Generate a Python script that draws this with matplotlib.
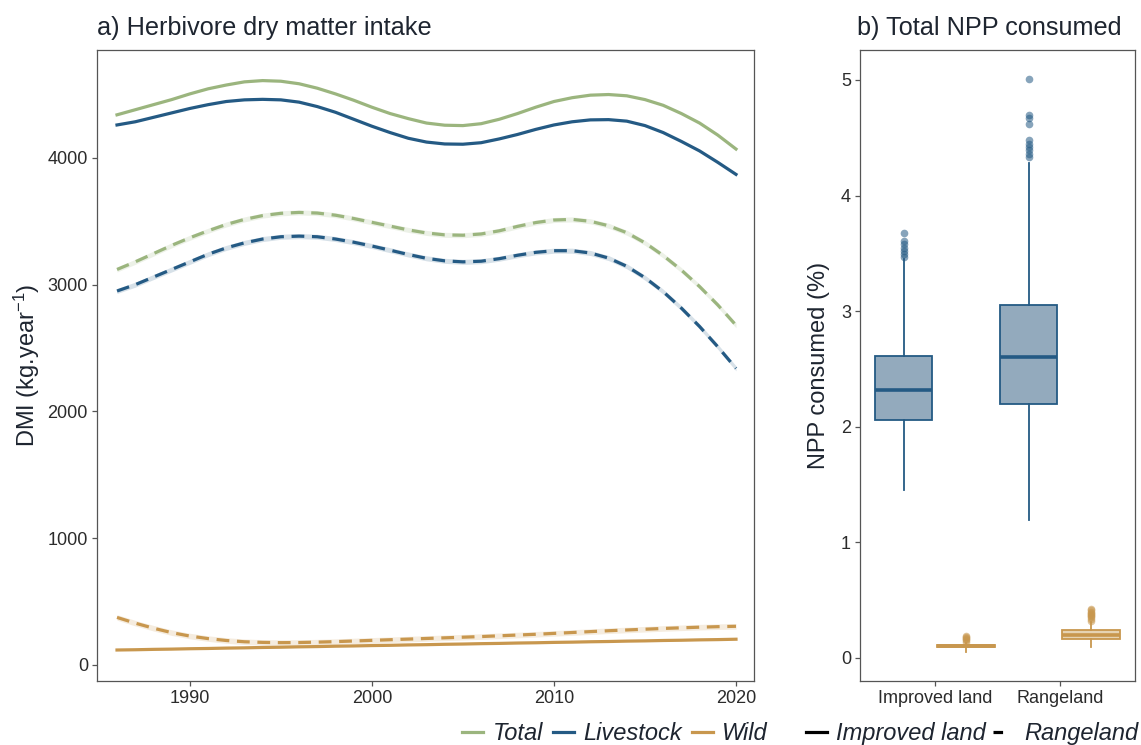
import numpy as np
import matplotlib
matplotlib.use("Agg")
import matplotlib.pyplot as plt
from matplotlib.lines import Line2D

plt.rcParams['font.family'] = ['Liberation Sans', 'DejaVu Sans']
plt.rcParams['mathtext.fontset'] = 'custom'
plt.rcParams['mathtext.rm'] = 'Liberation Sans'
plt.rcParams['mathtext.it'] = 'Liberation Sans:italic'

# ---- data -------------------------------------------------------------
years = np.arange(1986, 2021)

# Improved land (solid)
total_improved = [4340, 4380, 4420, 4460, 4505, 4545, 4575, 4600, 4610, 4605,
                  4585, 4550, 4505, 4455, 4400, 4350, 4310, 4275, 4258, 4255,
                  4270, 4305, 4350, 4400, 4445, 4475, 4495, 4500, 4490, 4460,
                  4415, 4350, 4275, 4180, 4070]
livestock_improved = [4260, 4285, 4320, 4355, 4390, 4420, 4445, 4458, 4462, 4458,
                      4440, 4405, 4360, 4305, 4250, 4200, 4155, 4125, 4110, 4108,
                      4120, 4150, 4185, 4225, 4260, 4285, 4300, 4302, 4290, 4255,
                      4200, 4130, 4055, 3965, 3870]
wild_improved = [118, 120, 123, 125, 128, 130, 133, 135, 138, 140,
                 143, 145, 148, 150, 153, 155, 158, 160, 163, 165,
                 168, 170, 173, 175, 178, 180, 183, 185, 188, 190,
                 193, 195, 198, 200, 203]

# Rangeland (dashed)
total_range = [3120, 3180, 3245, 3310, 3370, 3425, 3475, 3515, 3545, 3563,
               3570, 3565, 3548, 3522, 3492, 3462, 3432, 3408, 3393, 3390,
               3400, 3425, 3460, 3490, 3510, 3515, 3500, 3465, 3410, 3330,
               3230, 3115, 2985, 2840, 2680]
livestock_range = [2950, 3000, 3060, 3120, 3180, 3240, 3290, 3330, 3360, 3378,
                   3383, 3378, 3360, 3335, 3305, 3272, 3238, 3208, 3188, 3180,
                   3185, 3205, 3232, 3255, 3268, 3268, 3250, 3210, 3145, 3055,
                   2945, 2815, 2670, 2510, 2340]
wild_range = [375, 330, 290, 255, 228, 208, 193, 183, 178, 176,
              177, 180, 184, 189, 194, 199, 204, 209, 214, 219,
              224, 230, 236, 242, 249, 256, 263, 270, 276, 282,
              288, 293, 298, 302, 305]

# half-width of the confidence band around the rangeland smooths
band_total, band_livestock, band_wild = 20, 20, 22

# NPP consumed (%) box statistics: whislo, q1, med, q3, whishi, fliers
land_types = ["Improved land", "Rangeland"]
livestock_stats = [
    (1.45, 2.06, 2.32, 2.61, 3.45, [3.47, 3.49, 3.52, 3.55, 3.58, 3.61, 3.68]),
    (1.19, 2.20, 2.60, 3.05, 4.28, [4.33, 4.36, 4.39, 4.42, 4.45, 4.48,
                                    4.62, 4.67, 4.70, 5.01]),
]
wild_stats = [
    (0.05, 0.09, 0.10, 0.115, 0.13, [0.14, 0.15, 0.16, 0.17, 0.18, 0.19]),
    (0.095, 0.16, 0.20, 0.24, 0.31, [0.32, 0.34, 0.35, 0.36, 0.37, 0.38,
                                     0.39, 0.40, 0.41, 0.42]),
]

# ---- style ------------------------------------------------------------
GREEN = "#9BB57E"
BLUE = "#245A84"
TAN = "#C8974E"
FRAME = "#555555"
TEXT = "#1E2530"

fig = plt.figure(figsize=(11.41, 7.45), dpi=100)
ax1 = fig.add_axes([0.085, 0.086, 0.576, 0.847])
ax2 = fig.add_axes([0.7537, 0.086, 0.241, 0.847])

for ax in (ax1, ax2):
    for s in ax.spines.values():
        s.set_color(FRAME)
        s.set_linewidth(0.9)
    ax.tick_params(colors=FRAME, labelcolor="#2b2b2b", labelsize=13,
                   length=3.5, width=0.9, pad=3)

# ---- panel a: DMI smooths --------------------------------------------
dash = (4, 2.4)
for vals, col, band in [(total_range, GREEN, band_total),
                        (livestock_range, BLUE, band_livestock),
                        (wild_range, TAN, band_wild)]:
    v = np.array(vals)
    ax1.fill_between(years, v - band, v + band, color=col, alpha=0.18, lw=0)
    ax1.plot(years, v, color=col, lw=2.3, dashes=dash)

for vals, col in [(total_improved, GREEN), (livestock_improved, BLUE),
                  (wild_improved, TAN)]:
    ax1.plot(years, vals, color=col, lw=2.3)

ax1.set_xlim(1984.9, 2021.0)
ax1.set_ylim(-126, 4852)
ax1.set_xticks([1990, 2000, 2010, 2020])
ax1.set_yticks([0, 1000, 2000, 3000, 4000])
ax1.set_ylabel(r"DMI (kg.year$^{-1}$)", fontsize=17, color=TEXT, labelpad=4)
ax1.set_title("a) Herbivore dry matter intake", loc="left", fontsize=18.2,
              color=TEXT, pad=11, x=0.0)

# ---- panel b: boxplots ----------------------------------------------
def to_bxp(stats):
    return [dict(whislo=s[0], q1=s[1], med=s[2], q3=s[3], whishi=s[4],
                 fliers=s[5]) for s in stats]

pos = np.arange(len(land_types))
offset, width = 0.25, 0.46
for stats, col, face, shift in [(livestock_stats, BLUE, "#93AABD", -offset),
                                (wild_stats, TAN, "#E6D3B2", offset)]:
    ax2.bxp(to_bxp(stats), positions=pos + shift, widths=width,
            patch_artist=True, showcaps=False,
            boxprops=dict(facecolor=face, edgecolor=col, lw=1.3),
            medianprops=dict(color=col, lw=2.6),
            whiskerprops=dict(color=col, lw=1.3),
            flierprops=dict(marker="o", markersize=5.5, markerfacecolor=col,
                            markeredgecolor="none", alpha=0.55))

ax2.set_xlim(-0.6, 1.6)
ax2.set_ylim(-0.2, 5.26)
ax2.set_xticks(pos)
ax2.set_xticklabels(land_types)
ax2.set_yticks([0, 1, 2, 3, 4, 5])
ax2.set_ylabel("NPP consumed (%)", fontsize=17, color=TEXT, labelpad=8)
ax2.set_title("b) Total NPP consumed", loc="left", fontsize=18.2,
              color=TEXT, pad=11, x=-0.01)

# ---- legends ---------------------------------------------------------
col_handles = [Line2D([], [], color=c, lw=2.3) for c in (GREEN, BLUE, TAN)]
fig.legend(col_handles, ["Total", "Livestock", "Wild"], ncol=3,
           loc="center left", bbox_to_anchor=(0.405, 0.015),
           frameon=False, handlelength=0.9, handletextpad=0.4,
           columnspacing=0.4, prop=dict(size=17, style="italic"),
           labelcolor=TEXT, borderaxespad=0, borderpad=0)
lt_handles = [Line2D([], [], color="black", lw=2.3),
              Line2D([], [], color="black", lw=2.3, dashes=(3, 20))]
fig.legend(lt_handles, ["Improved land", "Rangeland"], ncol=2,
           loc="center left", bbox_to_anchor=(0.706, 0.015),
           frameon=False, handlelength=0.9, handletextpad=0.4,
           columnspacing=0.3, prop=dict(size=17, style="italic"),
           labelcolor=TEXT, borderaxespad=0, borderpad=0)

fig.savefig("out.png", dpi=100)
